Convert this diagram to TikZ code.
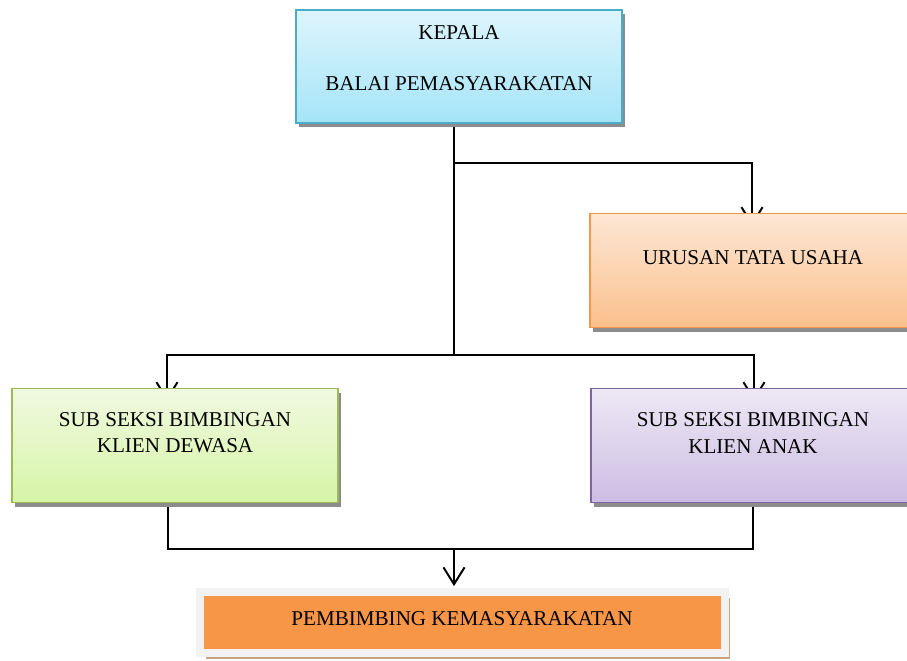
\documentclass[tikz,border=0pt]{standalone}
\usepackage{fontspec}
\setmainfont{Liberation Serif}
\usetikzlibrary{arrows.meta,shadows,backgrounds}

\definecolor{birumuda}{HTML}{DDF5FC}
\definecolor{birutua}{HTML}{A5E4F8}
\definecolor{birugaris}{HTML}{4BACC6}
\definecolor{oranyemuda}{HTML}{FDE7D5}
\definecolor{oranyetua}{HTML}{FBC08D}
\definecolor{oranyegaris}{HTML}{F79646}
\definecolor{hijaumuda}{HTML}{F0F9E0}
\definecolor{hijautua}{HTML}{D6F5A6}
\definecolor{hijaugaris}{HTML}{9BBB59}
\definecolor{ungumuda}{HTML}{EEE8F5}
\definecolor{ungutua}{HTML}{CBBDE3}
\definecolor{ungugaris}{HTML}{8064A2}
\definecolor{bingkai}{HTML}{F2F2F2}
\definecolor{bayangan}{HTML}{C9A27E}

\tikzset{
	kotak/.style={rectangle, line width=1.1pt, minimum width=8.15cm, minimum height=2.85cm,
		drop shadow={shadow xshift=2.2pt, shadow yshift=-3pt, fill=black!45, opacity=1}},
	teks/.style={align=center, font=\fontsize{15}{18.5}\selectfont},
	garis/.style={line width=1.4pt},
	panah/.style={garis, -{Straight Barb[length=12pt, width=15pt, line width=1.4pt]}}
}

\begin{document}
	\begin{tikzpicture}[x=0.025cm, y=-0.025cm]
		
		\useasboundingbox (0,0) rectangle (907,660);
		\clip (0,0) rectangle (907,660);
		
		\node[kotak, draw=birugaris, top color=birumuda, bottom color=birutua, minimum height=2.825cm] (kepala) at (459,66.5) {};
		\node[teks] (kepalateks) at (459,58) {KEPALA\\[17.8pt]BALAI PEMASYARAKATAN};
		
		\node[kotak, draw=oranyegaris, top color=oranyemuda, bottom color=oranyetua] (urusan) at (753,270.5) {};
		\node[teks] (urusanteks) at (753,258) {URUSAN TATA USAHA};
		
		\node[kotak, draw=hijaugaris, top color=hijaumuda, bottom color=hijautua] (dewasa) at (175,445.5) {};
		\node[teks] (dewasateks) at (175,433) {SUB SEKSI BIMBINGAN\\KLIEN DEWASA};
		
		\node[kotak, draw=ungugaris, top color=ungumuda, bottom color=ungutua] (anak) at (754,445.5) {};
		\node[teks] (anakteks) at (753,433) {SUB SEKSI BIMBINGAN\\KLIEN ANAK};
		
		\node[rectangle, draw=bingkai, line width=5.7pt, fill=oranyegaris, minimum width=13.1cm, minimum height=1.52cm,
			drop shadow={shadow xshift=4.2pt, shadow yshift=-4.2pt, fill=bayangan, opacity=1}] (pembimbing) at (462.5,622.5) {};
		\node[teks] (pembimbingteks) at (462,619) {PEMBIMBING KEMASYARAKATAN};
		
		\coordinate (cabang) at (454,163);
		\coordinate (tengah) at (454,355);
		\coordinate (gabung) at (454,549);
		
		\begin{scope}[on background layer]
			\draw[garis] (kepala.south -| tengah) -- (tengah);
			\draw[panah, shorten >=-0.33cm] (cabang) -| ([xshift=-0.025cm]urusan.north);
			\draw[panah, shorten >=-0.33cm] (tengah) -| ([xshift=-0.2cm]dewasa.north);
			\draw[panah, shorten >=-0.33cm] (tengah) -| (anak.north);
			\draw[garis] ([xshift=-0.175cm]dewasa.south) |- (gabung) -| ([xshift=-0.025cm]anak.south);
			\draw[panah, shorten >=0.05cm] (gabung) -- (gabung |- pembimbing.north);
		\end{scope}
		
	\end{tikzpicture}
\end{document}
